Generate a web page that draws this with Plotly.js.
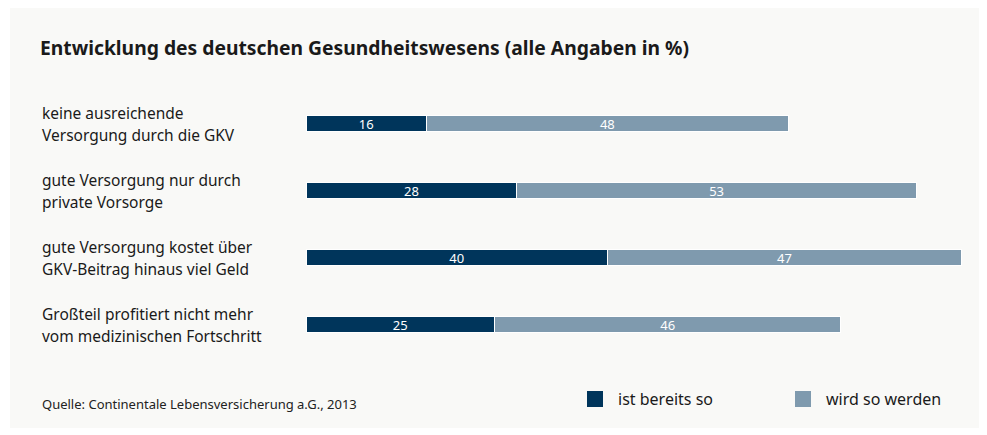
<!DOCTYPE html>
<html><head><meta charset="utf-8">
<script src="https://cdn.plot.ly/plotly-3.0.1.min.js"></script>
<style>html,body{margin:0;padding:0;background:#fff;}#chart{width:987px;height:435px;}</style>
</head><body><div id="chart"></div>
<script>
const categories = [
  "keine ausreichende<br>Versorgung durch die GKV",
  "gute Versorgung nur durch<br>private Vorsorge",
  "gute Versorgung kostet über<br>GKV-Beitrag hinaus viel Geld",
  "Großteil profitiert nicht mehr<br>vom medizinischen Fortschritt"
];
const istBereitsSo = [16, 28, 40, 25];
const wirdSoWerden = [48, 53, 47, 46];
const seriesNames = ["ist bereits so", "wird so werden"];
const titleText = "Entwicklung des deutschen Gesundheitswesens (alle Angaben in %)";
const sourceText = "Quelle: Continentale Lebensversicherung a.G., 2013";

const FONT = "Noto Sans, Open Sans, sans-serif";
const colors = ["#00355b", "#7f9aae"];
const W = 987, H = 435, ML = 306, MR = 18, MT = 90, MB = 77;
const PW = W - ML - MR, PH = H - MT - MB;
const px2x = p => (p - ML) / PW;
const px2y = p => (H - MB - p) / PH;

const idx = categories.map((_, i) => i);
const mk = (vals, k) => ({
  type: "bar", orientation: "h", y: idx, x: vals, name: seriesNames[k],
  marker: {color: colors[k], line: {color: "#ffffff", width: 1}},
  width: 0.24,
  text: vals.map(String), textposition: "inside", insidetextanchor: "middle",
  textangle: 0, constraintext: "none",
  textfont: {color: "#ffffff", size: 13, family: FONT},
  hoverinfo: "skip", showlegend: false
});
const data = [mk(istBereitsSo, 0), mk(wirdSoWerden, 1)];

const annotations = [];
categories.forEach((c, i) => {
  const lines = c.split("<br>");
  lines.forEach((ln, j) => {
    annotations.push({
      xref: "paper", yref: "y", x: px2x(40), y: i, xanchor: "left", yanchor: "middle",
      yshift: j === 0 ? 11 : -11, text: ln, showarrow: false, align: "left",
      font: {family: FONT, size: 15.5, color: "#1a1a1a"}
    });
  });
});
annotations.push({
  xref: "paper", yref: "paper", x: px2x(40), y: px2y(404), xanchor: "left", yanchor: "middle",
  text: sourceText, showarrow: false,
  font: {family: FONT, size: 13, color: "#222222"}
});

// manual legend
const legendX = [587, 795];
const shapes = [{type: "rect", xref: "paper", yref: "paper", layer: "below",
  x0: px2x(10), x1: px2x(979), y0: px2y(428), y1: px2y(8),
  fillcolor: "#f9f9f7", line: {width: 0}}];
seriesNames.forEach((n, k) => {
  shapes.push({type: "rect", xref: "paper", yref: "paper",
    x0: px2x(legendX[k]), x1: px2x(legendX[k] + 16), y0: px2y(407), y1: px2y(391),
    fillcolor: colors[k], line: {width: 0}});
  annotations.push({xref: "paper", yref: "paper", x: px2x(legendX[k] + 29), y: px2y(399),
    xanchor: "left", yanchor: "middle", text: n, showarrow: false,
    font: {family: FONT, size: 16, color: "#1a1a1a"}});
});

const layout = {
  width: W, height: H,
  margin: {l: ML, r: MR, t: MT, b: MB, pad: 0},
  paper_bgcolor: "#ffffff", plot_bgcolor: "rgba(0,0,0,0)",
  barmode: "stack",
  title: {text: titleText, xref: "container", yref: "container", x: 40 / W, y: 1 - 48 / H,
    xanchor: "left", yanchor: "middle",
    font: {family: FONT, size: 19.3, color: "#1a1a1a", weight: "bold"}},
  xaxis: {range: [0, 88], visible: false, fixedrange: true},
  yaxis: {range: [3.5, -0.5], visible: false, fixedrange: true},
  showlegend: false,
  shapes: shapes,
  annotations: annotations
};
Plotly.newPlot("chart", data, layout, {displayModeBar: false, staticPlot: true});
</script></body></html>
